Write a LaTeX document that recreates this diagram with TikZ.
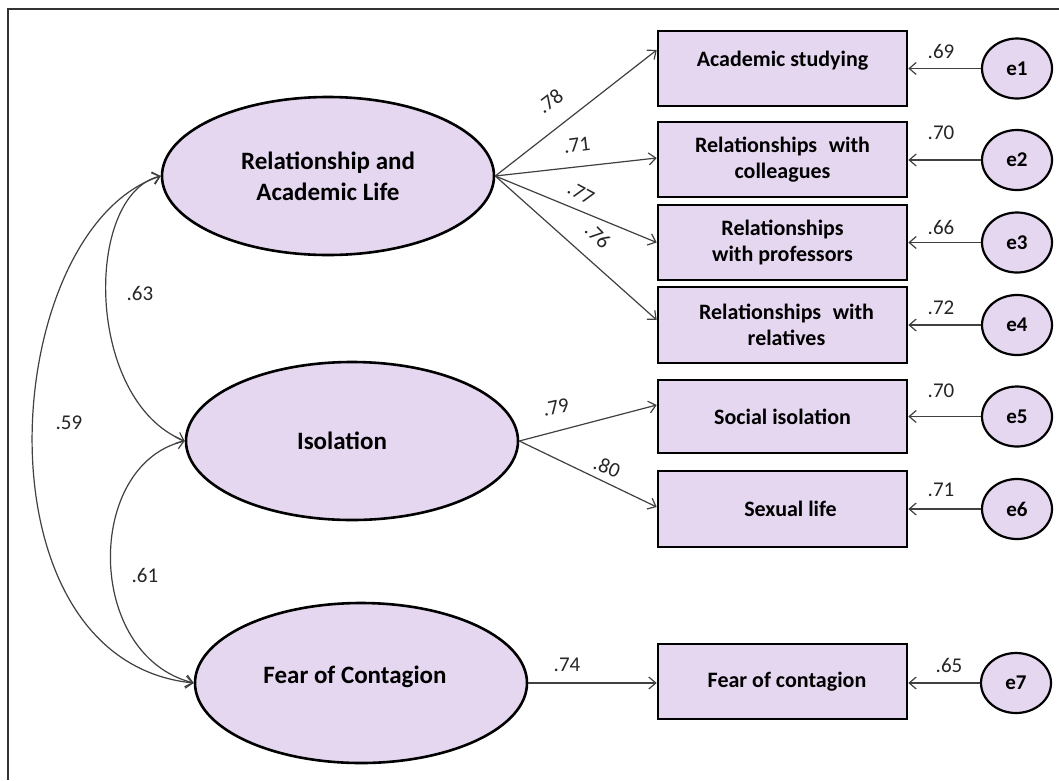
\documentclass[tikz,border=0pt]{standalone}
\usepackage{fontspec}
\setmainfont{Carlito}
\usetikzlibrary{shapes.geometric,arrows.meta}
\definecolor{lav}{RGB}{229,215,240}
\definecolor{conncol}{RGB}{64,64,64}
\begin{document}
\begin{tikzpicture}[x=1pt,y=-1pt,
 latent/.style={ellipse,draw=black,line width=2.6pt,fill=lav,minimum width=332pt,minimum height=158pt,inner sep=0pt,align=center,font=\fontsize{25}{31}\selectfont\bfseries},
 obs/.style={rectangle,draw=black,line width=2.6pt,fill=lav,minimum width=249pt,minimum height=75pt,inner sep=0pt,align=center,font=\fontsize{22}{26}\selectfont\bfseries},
 err/.style={ellipse,draw=black,line width=2.2pt,fill=lav,minimum width=70pt,minimum height=60pt,inner sep=0pt,font=\fontsize{21}{25}\selectfont\bfseries},
 tip/.tip={Straight Barb[length=7pt,width=12pt]},
 conn/.style={draw=conncol,line width=1.2pt,-tip},
 cov/.style={draw=conncol,line width=1.2pt,tip-tip},
 coef/.style={font=\fontsize{21}{25}\selectfont,inner sep=0pt,text=black!85}
]
\useasboundingbox (0,0) rectangle (1059,780);
\fill[white] (0,0) rectangle (1059,780);
\draw[line width=1.3pt,black!80] (8,780) -- (8,9) -- (1059,9);

% latent variables
\node[latent] (L1) at (328,176) {Relationship and\\Academic Life};
\node[latent] (L2) at (352,441) {\hspace*{-20pt}Isolation};
\node[latent,minimum height=160pt] (L3) at (361,683) {\hspace*{-12pt}Fear of Contagion\\[-15pt]\mbox{}};

% observed variables
\node[obs] (b1) at (782.5,68.5) {Academic studying\\[-6pt]\mbox{}};
\node[obs] (b2) at (782.5,159.5) {Relationships\hspace{.3em} with\\colleagues};
\node[obs] (b3) at (782.5,242.5) {Relationships\\with professors};
\node[obs,minimum height=76pt] (b4) at (782.5,325) {\hspace*{8pt}Relationships\hspace{.3em} with\\\hspace*{8pt}relatives};
\node[obs,minimum height=73pt] (b5) at (782.5,416.5) {Social isolation};
\node[obs,minimum height=76pt] (b6) at (782.5,509) {\hspace*{16pt}Sexual life};
\node[obs] (b7) at (782.5,681.5) {\hspace*{9pt}Fear of contagion};

% error terms
\node[err] (e1) at (1017,68.5) {e1};
\node[err] (e2) at (1017,160) {e2};
\node[err] (e3) at (1017,242.5) {e3};
\node[err] (e4) at (1017,325) {e4};
\node[err] (e5) at (1017,416.5) {e5};
\node[err] (e6) at (1017,509) {e6};
\node[err] (e7) at (1016,683) {e7};

% loadings
\draw[conn] (L1.east) -- ([yshift=18.5pt]b1.west);
\draw[conn] (L1.east) -- ([yshift=1.5pt]b2.west);
\draw[conn] (L1.east) -- (b3.west);
\draw[conn] (L1.east) -- ([yshift=5pt]b4.west);
\draw[conn] (L2.east) -- ([yshift=11.5pt]b5.west);
\draw[conn] (L2.east) -- ([yshift=2pt]b6.west);
\draw[conn] (L3.east) -- (L3.east -| b7.west);

% error paths
\foreach \i in {1,...,7} { \draw[conn] (e\i.west) -- (e\i.west -| b\i.east); }

% covariances
\draw[cov] (L1.west) .. controls +(-77,19) and +(-100,-41) .. (L2.west);
\draw[cov] (L1.west) .. controls +(-162,54) and +(-224,-23) .. (L3.west);
\draw[cov] (L2.west) .. controls +(-100,24) and +(-109,-28) .. (L3.west);

% coefficient labels
\node[coef] (c63) at (140,293) {.63};
\node[coef] (c59) at (69,423) {.59};
\node[coef] (c61) at (145,575) {.61};
\node[coef,rotate=37] (l78) at (550,101) {.78};
\node[coef,rotate=7] (l71) at (577,145) {.71};
\node[coef,rotate=-28] (l77) at (581,193) {.77};
\node[coef,rotate=-45] (l76) at (598,236) {.76};
\node[coef,rotate=12] (l79) at (556,407) {.79};
\node[coef,rotate=-22] (l80) at (607,467) {.80};
\node[coef] (l74) at (567,665) {.74};
\node[coef] (r1) at (941,51) {.69};
\node[coef] (r2) at (941,133) {.70};
\node[coef] (r3) at (941,227) {.66};
\node[coef] (r4) at (941,308) {.72};
\node[coef] (r5) at (941,391) {.70};
\node[coef] (r6) at (941,490) {.71};
\node[coef] (r7) at (949,665) {.65};
\end{tikzpicture}
\end{document}
